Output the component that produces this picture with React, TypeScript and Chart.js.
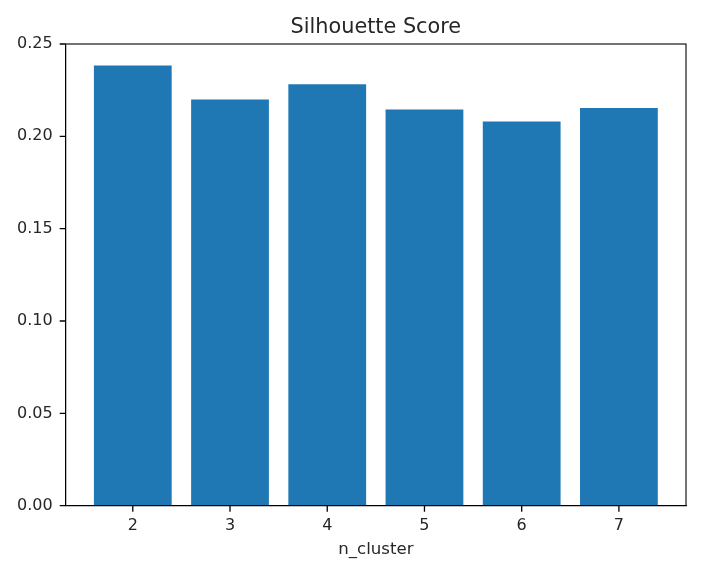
import React, { useEffect, useRef } from "react";
import { Chart, registerables } from "chart.js";

Chart.register(...registerables);

const clusters = [2, 3, 4, 5, 6, 7];
const scores = [0.2384, 0.2200, 0.2282, 0.2146, 0.2080, 0.2153];
const yTicks = [0.0, 0.05, 0.1, 0.15, 0.2, 0.25];
const titleText = "Silhouette Score";
const xLabel = "n_cluster";

const FONT = "'DejaVu Sans', sans-serif";
const TEXT = "#262626";

export default function App() {
  const ref = useRef<HTMLCanvasElement | null>(null);

  useEffect(() => {
    document.body.style.margin = "0";
    const canvas = ref.current!;
    const framePlugin = {
      id: "frame",
      afterDraw(chart: any) {
        const { ctx, chartArea } = chart;
        const xs = chart.scales.x;
        const ys = chart.scales.y;
        ctx.save();
        ctx.strokeStyle = "#000";
        ctx.lineWidth = 1.1;
        ctx.strokeRect(chartArea.left, chartArea.top, chartArea.right - chartArea.left, chartArea.bottom - chartArea.top);
        ctx.lineWidth = 1.3;
        ctx.beginPath();
        yTicks.forEach((v) => {
          const py = ys.getPixelForValue(v);
          ctx.moveTo(chartArea.left, py);
          ctx.lineTo(chartArea.left - 6, py);
        });
        clusters.forEach((c) => {
          const px = xs.getPixelForValue(c);
          ctx.moveTo(px, chartArea.bottom);
          ctx.lineTo(px, chartArea.bottom + 6);
        });
        ctx.stroke();
        ctx.fillStyle = TEXT;
        ctx.font = `20.8px ${FONT}`;
        ctx.textAlign = "center";
        ctx.textBaseline = "alphabetic";
        ctx.fillText(titleText, (chartArea.left + chartArea.right) / 2, 33);
        ctx.restore();
      },
    };
    const chart = new Chart(canvas, {
      type: "bar",
      data: {
        datasets: [
          {
            data: clusters.map((c, i) => ({ x: c, y: scores[i] })),
            backgroundColor: "#1f77b4",
            borderWidth: 0,
            categoryPercentage: 1,
            barPercentage: 0.8,
          },
        ],
      },
      options: {
        animation: false,
        responsive: false,
        events: [],
        layout: { padding: { top: 44, right: 22, left: 0, bottom: 0 } },
        plugins: { legend: { display: false }, tooltip: { enabled: false }, title: { display: false } },
        scales: {
          x: {
            type: "linear",
            min: 1.31,
            max: 7.69,
            offset: false,
            afterBuildTicks: (scale: any) => {
              scale.ticks = clusters.map((v) => ({ value: v }));
            },
            afterFit: (scale: any) => {
              scale.height = 65.3;
            },
            grid: { display: false, offset: false, drawOnChartArea: false, drawTicks: true, tickLength: 6, color: "#000" },
            border: { display: true, color: "#000" },
            ticks: { color: TEXT, font: { family: FONT, size: 16 }, padding: 5, autoSkip: false, maxRotation: 0, callback: (v: any) => String(v) },
            title: { display: true, text: xLabel, color: TEXT, font: { family: FONT, size: 16.6 }, padding: { top: 0, bottom: 11 } },
          },
          y: {
            min: 0,
            max: 0.25,
            afterBuildTicks: (scale: any) => {
              scale.ticks = yTicks.map((v) => ({ value: v }));
            },
            afterFit: (scale: any) => {
              scale.width = 65.7;
            },
            grid: { display: false, drawOnChartArea: false, drawTicks: true, tickLength: 6, color: "#000" },
            border: { display: true, color: "#000" },
            ticks: { color: TEXT, font: { family: FONT, size: 16 }, padding: 7, callback: (v: any) => Number(v).toFixed(2) },
          },
        },
      },
      plugins: [framePlugin],
    } as any);
    return () => chart.destroy();
  }, []);

  return <canvas ref={ref} width={708} height={571} style={{ display: "block" }} />;
}
